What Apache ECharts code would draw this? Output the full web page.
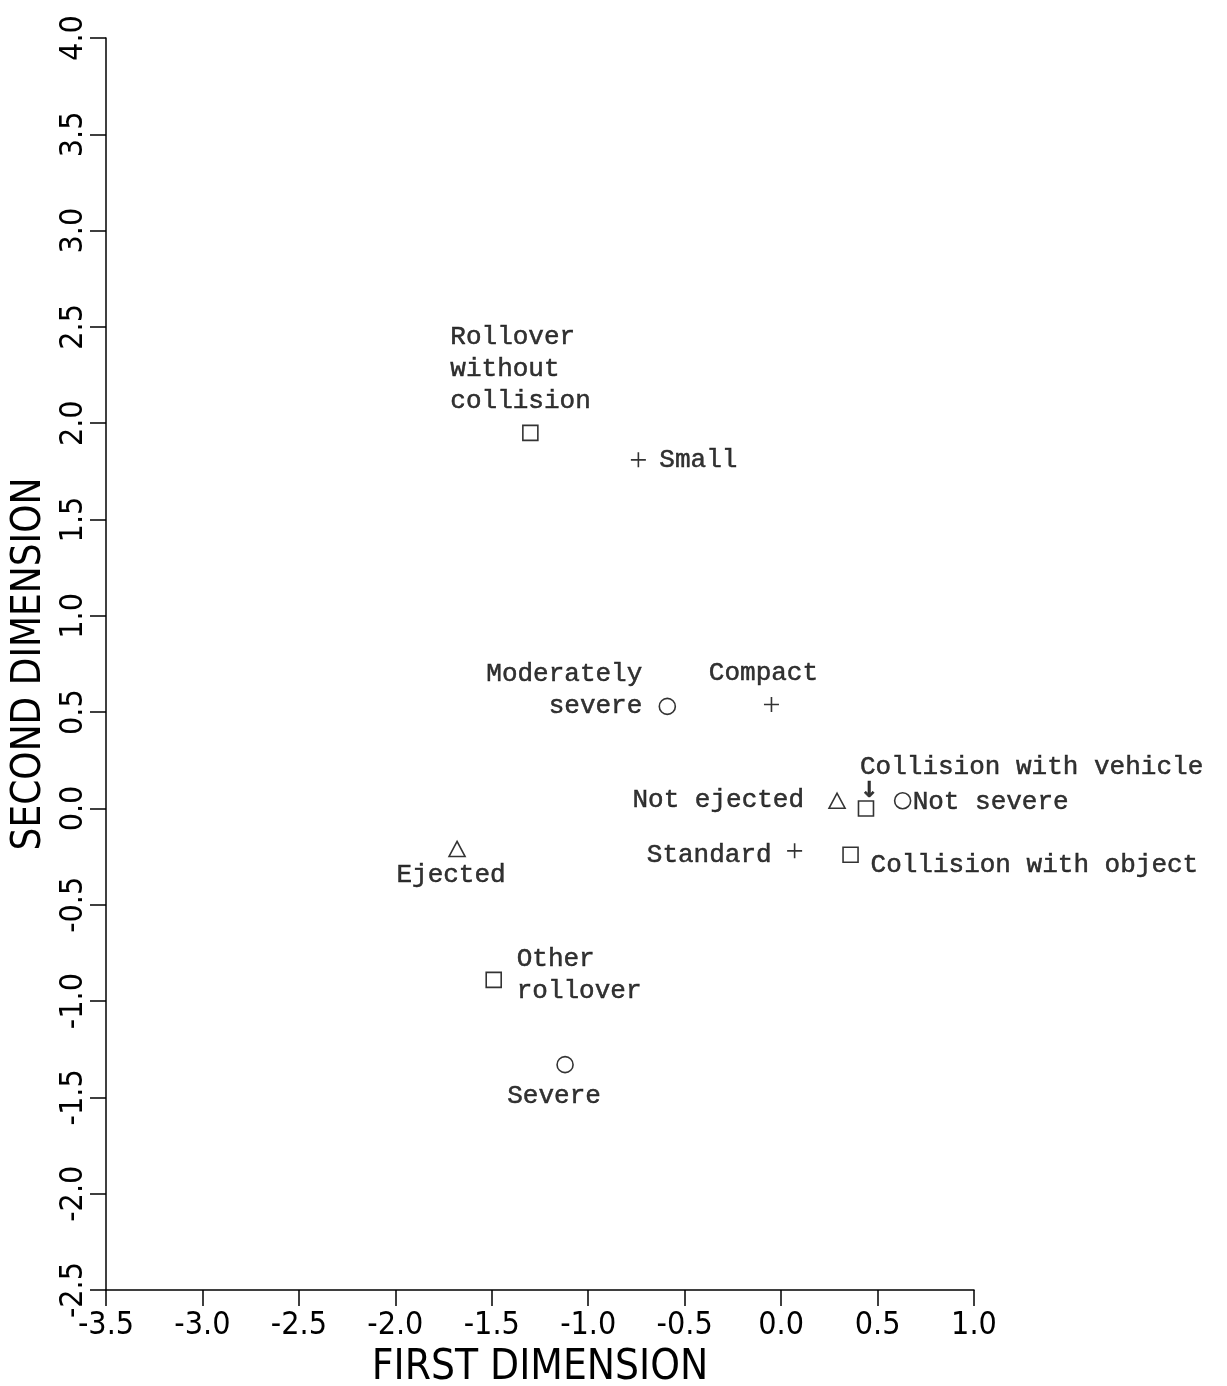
<!DOCTYPE html>
<html>
<head>
<meta charset="utf-8">
<script src="https://cdn.jsdelivr.net/npm/echarts@6/dist/echarts.min.js"></script>
<style>
html,body{margin:0;padding:0;background:#fff;}
#chart{width:1227px;height:1386px;}
</style>
</head>
<body>
<div id="chart"></div>
<script>
// ---- data ----
const names = ["Rollover\nwithout\ncollision", "Small", "Moderately\nsevere", "Compact",
  "Not ejected", "Collision with vehicle", "Not severe", "Ejected", "Standard",
  "Collision with object", "Other\nrollover", "Severe"];
const firstDim  = [-1.30, -0.74, -0.59, -0.05, 0.29, 0.44, 0.63, -1.68, 0.07, 0.36, -1.49, -1.12];
const secondDim = [ 1.95,  1.81,  0.53,  0.54, 0.04, 0.00, 0.04, -0.21, -0.22, -0.24, -0.89, -1.33];
const groups = ["accident", "size", "severity", "size", "ejection", "accident", "severity",
  "ejection", "size", "accident", "accident", "severity"];
const xTicks = ["-3.5","-3.0","-2.5","-2.0","-1.5","-1.0","-0.5","0.0","0.5","1.0"];
const yTicks = ["-2.5","-2.0","-1.5","-1.0","-0.5","0.0","0.5","1.0","1.5","2.0","2.5","3.0","3.5","4.0"];

// ---- styling (kept apart from data) ----
const symbolOf = {
  accident: 'rect',
  size: 'path://M5,0 L5,10 M0,5 L10,5',
  severity: 'circle',
  ejection: 'triangle'
};
const sizeOf = { accident: [15,15], size: [15,15], severity: [16,16], ejection: [16,15] };
const labelLayoutOf = {
  "Rollover\nwithout\ncollision": {align:'left', dx:-80, dy:-64},
  "Small": {align:'left', dx:21, dy:0},
  "Moderately\nsevere": {align:'right', dx:-25, dy:-16},
  "Compact": {align:'center', dx:-8, dy:-31},
  "Not ejected": {align:'right', dx:-33, dy:-1},
  "Collision with vehicle": {align:'left', dx:-6, dy:-31, arrow:true},
  "Not severe": {align:'left', dx:10, dy:1},
  "Ejected": {align:'center', dx:-6, dy:26},
  "Standard": {align:'right', dx:-23, dy:4},
  "Collision with object": {align:'left', dx:20, dy:10},
  "Other\nrollover": {align:'left', dx:23, dy:-5},
  "Severe": {align:'center', dx:-11, dy:31}
};
const monoFont = "'Liberation Mono', 'DejaVu Sans Mono', monospace";
const axisFont = "'Liberation Sans Narrow', 'DejaVu Sans Condensed', 'Liberation Sans', sans-serif";

const data = names.map((n, i) => {
  const g = groups[i];
  const L = labelLayoutOf[n];
  const label = {
    show: true,
    position: 'inside',
    align: L.align,
    verticalAlign: 'middle',
    fontFamily: monoFont,
    fontSize: 26,
    lineHeight: 32,
    color: '#000',
    textBorderColor: '#000',
    textBorderWidth: 0.5
  };
  if (L.arrow) {
    label.formatter = '{t|' + n + '}\n{a|\u2193}';
    label.rich = {
      t: {fontFamily: monoFont, fontSize: 26, lineHeight: 28, color:'#000', align:'left',
          textBorderColor:'#000', textBorderWidth:0.5},
      a: {fontFamily: "'DejaVu Sans', sans-serif", fontSize: 22, lineHeight: 20, color:'#000', align:'left',
          fontWeight:'bold', padding:[0,0,0,0]}
    };
  } else {
    label.formatter = n;
  }
  return {
    name: n,
    value: [firstDim[i], secondDim[i]],
    symbol: symbolOf[g],
    symbolSize: sizeOf[g],
    itemStyle: {color: g === 'size' ? '#000' : '#fff', borderColor: '#000', borderWidth: 1.6},
    label: label
  };
});

const chart = echarts.init(document.getElementById('chart'), null, {renderer: 'canvas'});
chart.setOption({
  backgroundColor: '#fff',
  animation: false,
  grid: {left: 106, right: 253, top: 38, bottom: 96, containLabel: false, outerBoundsMode: 'none'},
  xAxis: {
    type: 'value', min: -3.5, max: 1.0, interval: 0.5,
    name: 'FIRST DIMENSION', nameLocation: 'middle', nameGap: 52,
    nameTextStyle: {fontFamily: axisFont, fontSize: 42, color: '#000', fontWeight: 'normal'},
    axisLine: {show: true, onZero: false, lineStyle: {color: '#000', width: 1.5}},
    axisTick: {show: true, inside: false, length: 16, lineStyle: {color: '#000', width: 1.5}},
    axisLabel: {
      margin: 20, fontFamily: axisFont, fontSize: 32, color: '#000',
      formatter: (v) => xTicks[Math.round((v + 3.5) / 0.5)]
    },
    splitLine: {show: false}
  },
  yAxis: {
    type: 'value', min: -2.5, max: 4.0, interval: 0.5,
    name: 'SECOND DIMENSION', nameLocation: 'middle', nameGap: 46, nameRotate: 90,
    nameTextStyle: {fontFamily: axisFont, fontSize: 40, color: '#000', fontWeight: 'normal'},
    axisLine: {show: true, onZero: false, lineStyle: {color: '#000', width: 1.5}},
    axisTick: {show: true, inside: false, length: 16, lineStyle: {color: '#000', width: 1.5}},
    axisLabel: {
      rotate: 90, margin: 16, fontFamily: axisFont, fontSize: 32, color: '#000',
      formatter: (v) => yTicks[Math.round((v + 2.5) / 0.5)]
    },
    splitLine: {show: false}
  },
  series: [{
    type: 'scatter',
    data: data,
    labelLayout: function (params) {
      const L = labelLayoutOf[names[params.dataIndex]];
      return {dx: L.dx, dy: L.dy, hideOverlap: false};
    },
    emphasis: {disabled: true}
  }]
});
</script>
</body>
</html>
